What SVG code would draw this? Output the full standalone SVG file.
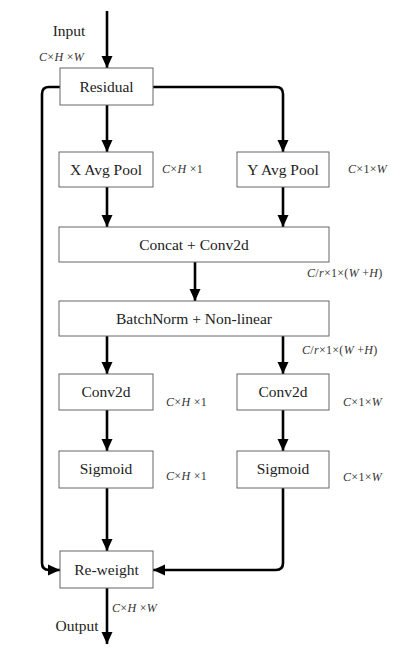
<svg xmlns="http://www.w3.org/2000/svg" width="401" height="650" viewBox="0 0 401 650" font-family="Liberation Serif, Times New Roman, serif">
<style>
.box{fill:#fff;stroke:#666;stroke-width:1}
text{font-family:'Liberation Serif','DejaVu Serif',serif}
.t{font-size:15.5px;fill:#222;text-anchor:middle}
.m{font-size:12px;fill:#333;letter-spacing:0.3px}
.i{font-style:italic}
.c{fill:none;stroke:#000;stroke-width:2.6;stroke-linejoin:round}
</style>
<defs>
<marker id="a" markerUnits="userSpaceOnUse" markerWidth="12" markerHeight="12" viewBox="0 0 12 12" refX="12" refY="6" orient="auto">
<path d="M0,0.5 L12,6 L0,11.5 Z" fill="#000"/>
</marker>
</defs>
<rect width="401" height="650" fill="#fff"/>
<g id="connectors">
<path class="c" d="M107,11 V68" marker-end="url(#a)"/>
<path class="c" d="M60,87 H49 Q42,87 42,94 V563 Q42,570 49,570 H60" marker-end="url(#a)"/>
<path class="c" d="M153,87 H276 Q283,87 283,94 V152" marker-end="url(#a)"/>
<path class="c" d="M107,105 V152" marker-end="url(#a)"/>
<path class="c" d="M107,187 V227" marker-end="url(#a)"/>
<path class="c" d="M283,187 V227" marker-end="url(#a)"/>
<path class="c" d="M195,262 V301" marker-end="url(#a)"/>
<path class="c" d="M107,336 V374" marker-end="url(#a)"/>
<path class="c" d="M283,336 V374" marker-end="url(#a)"/>
<path class="c" d="M107,410 V451" marker-end="url(#a)"/>
<path class="c" d="M283,410 V451" marker-end="url(#a)"/>
<path class="c" d="M107,488 V551" marker-end="url(#a)"/>
<path class="c" d="M283,488 V563 Q283,570 276,570 H153" marker-end="url(#a)"/>
<path class="c" d="M107,588 V644" marker-end="url(#a)"/>
</g>
<g id="input-label">
<text class="t" x="69" y="36">Input</text>
<text class="m" x="39" y="61"><tspan class="i">C</tspan>×<tspan class="i">H</tspan> ×<tspan class="i">W</tspan></text>
</g>
<g id="residual"><rect class="box" x="60" y="68" width="93" height="37"/><text class="t" x="106.5" y="92">Residual</text></g>
<g id="xpool"><rect class="box" x="59" y="152" width="94" height="35"/><text class="t" x="106" y="175">X Avg Pool</text></g>
<g id="ypool"><rect class="box" x="237" y="152" width="92" height="35"/><text class="t" x="283" y="175">Y Avg Pool</text></g>
<g id="concat"><rect class="box" x="59" y="227" width="270" height="35"/><text class="t" x="194" y="250">Concat + Conv2d</text></g>
<g id="bn"><rect class="box" x="59" y="301" width="270" height="35"/><text class="t" x="194" y="324">BatchNorm + Non-linear</text></g>
<g id="conv-x"><rect class="box" x="59" y="374" width="94" height="36"/><text class="t" x="106" y="397">Conv2d</text></g>
<g id="conv-y"><rect class="box" x="237" y="374" width="92" height="36"/><text class="t" x="283" y="397">Conv2d</text></g>
<g id="sig-x"><rect class="box" x="59" y="451" width="94" height="37"/><text class="t" x="106" y="474">Sigmoid</text></g>
<g id="sig-y"><rect class="box" x="237" y="451" width="92" height="37"/><text class="t" x="283" y="474">Sigmoid</text></g>
<g id="reweight"><rect class="box" x="60" y="551" width="93" height="37"/><text class="t" x="106.5" y="575">Re-weight</text></g>
<g id="dims">
<text class="m" x="162" y="173"><tspan class="i">C</tspan>×<tspan class="i">H</tspan> ×1</text>
<text class="m" x="348" y="173"><tspan class="i">C</tspan>×1×<tspan class="i">W</tspan></text>
<text class="m" x="307" y="277"><tspan class="i">C</tspan>/<tspan class="i">r</tspan>×1×(<tspan class="i">W</tspan> +<tspan class="i">H</tspan>)</text>
<text class="m" x="302" y="354"><tspan class="i">C</tspan>/<tspan class="i">r</tspan>×1×(<tspan class="i">W</tspan> +<tspan class="i">H</tspan>)</text>
<text class="m" x="166" y="406"><tspan class="i">C</tspan>×<tspan class="i">H</tspan> ×1</text>
<text class="m" x="343" y="406"><tspan class="i">C</tspan>×1×<tspan class="i">W</tspan></text>
<text class="m" x="166" y="480"><tspan class="i">C</tspan>×<tspan class="i">H</tspan> ×1</text>
<text class="m" x="343" y="481"><tspan class="i">C</tspan>×1×<tspan class="i">W</tspan></text>
<text class="m" x="112" y="612"><tspan class="i">C</tspan>×<tspan class="i">H</tspan> ×<tspan class="i">W</tspan></text>
</g>
<g id="output-label"><text class="t" x="77" y="631">Output</text></g>
</svg>
